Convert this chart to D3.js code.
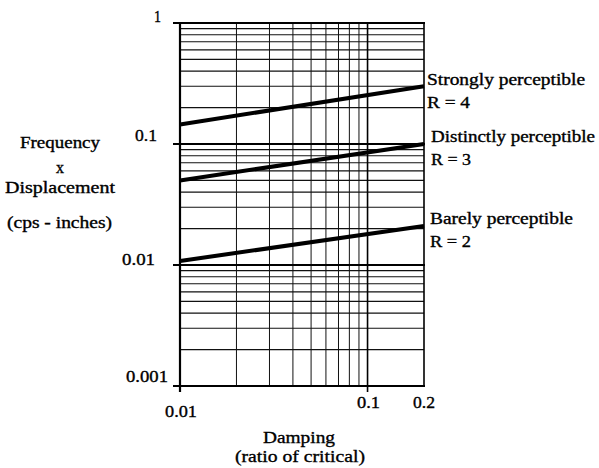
<!DOCTYPE html>
<html><head><meta charset="utf-8">
<script src="https://cdn.jsdelivr.net/npm/d3@7"></script>
<style>body{margin:0;background:#fff}svg{display:block}text{font-family:"Liberation Serif","Times New Roman",serif;fill:#000;stroke:#000;stroke-width:0.35px}</style>
</head><body>
<script>
const xDomain = [0.01, 0.2];
const yDomain = [0.001, 1];
const xTickLabels = ["0.01", "0.1", "0.2"];
const xTickValues = [0.01, 0.1, 0.2];
const yTickLabels = ["0.001", "0.01", "0.1", "1"];
const yTickValues = [0.001, 0.01, 0.1, 1];
const seriesNames = ["Strongly perceptible", "Distinctly perceptible", "Barely perceptible"];
const seriesR = ["R = 4", "R = 3", "R = 2"];
const seriesX = [0.01, 0.2];
const strongly = [0.145, 0.3];
const distinctly = [0.05, 0.1];
const barely = [0.0108, 0.021];
const seriesValues = [strongly, distinctly, barely];

const W = 599, H = 468;
const svg = d3.select("body").append("svg").attr("width", W).attr("height", H);
const L = 180, R = 424, T = 23, B = 386;
const x = d3.scaleLog().domain(xDomain).range([L, R]);
const y = d3.scaleLog().domain(yDomain).range([B, T]);

function label(t, px, py, len, anchor, size) {
  svg.append("text").attr("x", px).attr("y", py)
    .attr("text-anchor", anchor || "start").attr("font-size", size || 16)
    .attr("textLength", len).attr("lengthAdjust", "spacingAndGlyphs").text(t);
}

// minor gridlines
const xGrid = [];
for (let v = 2; v <= 9; v++) xGrid.push(v / 100);
const yGrid = [];
[0.001, 0.01, 0.1].forEach(d => { for (let k = 2; k <= 9; k++) yGrid.push(d * k); });

const g = svg.append("g");
g.selectAll("line.vg").data(xGrid).join("line")
  .attr("x1", d => x(d)).attr("x2", d => x(d)).attr("y1", T).attr("y2", B)
  .attr("stroke", "#111").attr("stroke-width", 1);
g.selectAll("line.hg").data(yGrid).join("line")
  .attr("x1", L).attr("x2", R).attr("y1", d => y(d)).attr("y2", d => y(d))
  .attr("stroke", "#111").attr("stroke-width", 1.2);
// decade lines (extending left of the axis)
g.selectAll("line.dg").data(yTickValues).join("line")
  .attr("x1", L - 7).attr("x2", R + 1).attr("y1", d => y(d)).attr("y2", d => y(d))
  .attr("stroke", "#000").attr("stroke-width", 1.8);
// x decade ticks below the axis
g.selectAll("line.xt").data([0.01, 0.1]).join("line")
  .attr("x1", d => x(d)).attr("x2", d => x(d)).attr("y1", T).attr("y2", B + 6)
  .attr("stroke", "#000").attr("stroke-width", 1.6);
// borders
g.append("line").attr("x1", L).attr("x2", L).attr("y1", T).attr("y2", B + 6).attr("stroke", "#000").attr("stroke-width", 2.2);
g.append("line").attr("x1", R).attr("x2", R).attr("y1", T - 1).attr("y2", B).attr("stroke", "#000").attr("stroke-width", 1.6);

// series
const line = d3.line().x(d => x(d[0])).y(d => y(d[1]));
seriesValues.forEach(vals => {
  g.append("path").attr("d", line(seriesX.map((xv, i) => [xv, vals[i]])))
    .attr("fill", "none").attr("stroke", "#000").attr("stroke-width", 4);
});

// y tick labels: [right x, baseline, width]
const yLab = {"1": [161, 22, 7], "0.1": [157, 141, 22], "0.01": [155, 265, 33], "0.001": [168, 382, 42]};
yTickLabels.forEach(t => { const p = yLab[t]; label(t, p[0], p[1], p[2], "end"); });
// x tick labels
const xLab = [[165, 417, 32], [357, 408, 23], [413, 408, 22]];
xTickLabels.forEach((t, i) => label(t, xLab[i][0], xLab[i][1], xLab[i][2], "start"));

// axis titles
label("Damping", 263, 443, 72, "start", 17);
label("(ratio of critical)", 235, 462, 130, "start", 17);
label("Frequency", 20, 148, 80, "start");
label("x", 56, 173, 8, "start");
label("Displacement", 5, 193, 110, "start");
label("(cps - inches)", 7, 228, 105, "start");

// series labels
const labPos = [[427, 85, 158, 108, 43], [431, 142, 164, 165, 40], [430, 224, 143, 247, 41]];
seriesNames.forEach((n, i) => {
  const p = labPos[i];
  label(n, p[0], p[1], p[2], "start");
  label(seriesR[i], p[0], p[3], p[4], "start");
});
</script>
</body></html>
